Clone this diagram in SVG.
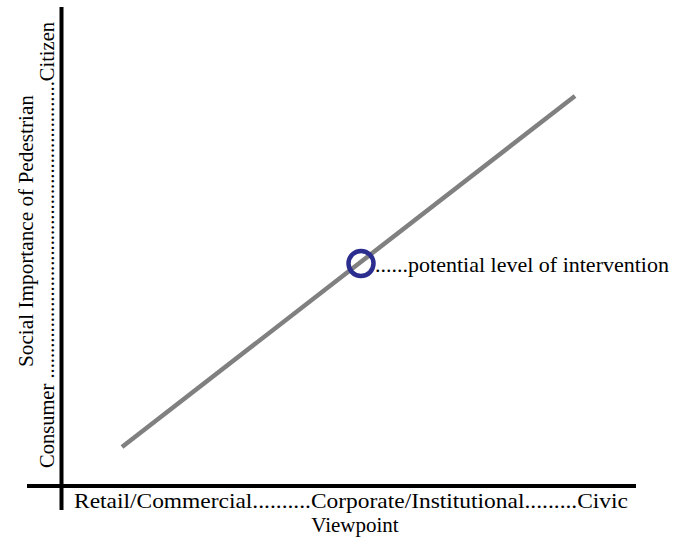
<svg xmlns="http://www.w3.org/2000/svg" width="674" height="541" viewBox="0 0 674 541">
  <style>
    text { font-family: "Liberation Serif", "DejaVu Serif", serif; fill: #000; }
    .axis { stroke: #000; stroke-width: 4; fill: none; }
  </style>
  <rect width="674" height="541" fill="#fff"/>
  <g id="axes">
    <line class="axis" x1="61.5" y1="7" x2="61.5" y2="510"/>
    <line class="axis" x1="27" y1="486" x2="636" y2="486"/>
  </g>
  <g id="connectors">
    <line x1="122" y1="447" x2="575" y2="96" stroke="#808080" stroke-width="4.5"/>
  </g>
  <g id="intervention-point">
    <circle cx="361" cy="263.5" r="12.5" fill="none" stroke="#2b2e8e" stroke-width="4.5"/>
    <text x="375" y="272" font-size="21" textLength="294" lengthAdjust="spacingAndGlyphs">......potential level of intervention</text>
  </g>
  <g id="x-axis-labels">
    <text x="74" y="508" font-size="22" textLength="554" lengthAdjust="spacingAndGlyphs">Retail/Commercial..........Corporate/Institutional.........Civic</text>
    <text x="355" y="532" font-size="21" text-anchor="middle">Viewpoint</text>
  </g>
  <g id="y-axis-labels">
    <text transform="translate(54,468) rotate(-90)" font-size="21" textLength="446" lengthAdjust="spacingAndGlyphs">Consumer ..........................................................Citizen</text>
    <text transform="translate(33,367) rotate(-90)" font-size="21" textLength="272" lengthAdjust="spacingAndGlyphs">Social Importance of Pedestrian</text>
  </g>
</svg>
